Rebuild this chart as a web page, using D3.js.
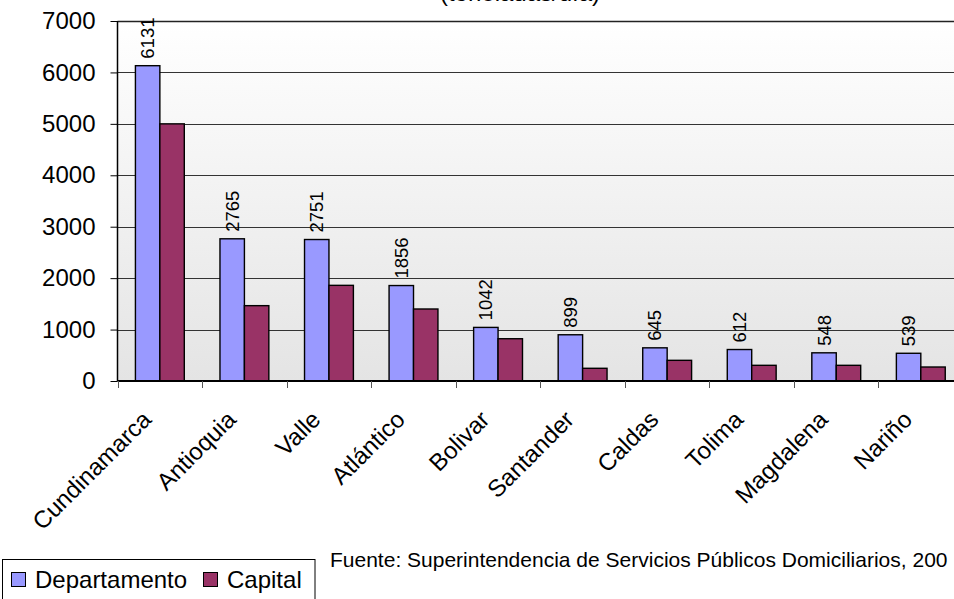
<!DOCTYPE html>
<html><head><meta charset="utf-8">
<script src="https://cdn.jsdelivr.net/npm/d3@7"></script>
<style>body{margin:0;background:#fff}svg{display:block;font-family:"Liberation Sans",Arial,sans-serif}</style>
</head><body><svg id="c" width="954" height="599"></svg>
<script>
const categories = ["Cundinamarca","Antioquia","Valle","Atlántico","Bolivar","Santander","Caldas","Tolima","Magdalena","Nariño"];
const departamento = [6131,2765,2751,1856,1042,899,645,612,548,539];
const capital = [5000,1465,1860,1400,822,247,402,305,305,272];
const seriesNames = ["Departamento","Capital"];
const seriesColors = ["#9999FF","#993366"];
const yTicks = [0,1000,2000,3000,4000,5000,6000,7000];
const titleText = "(toneladas/día)";
const sourceText = "Fuente: Superintendencia de Servicios Públicos Domiciliarios, 200";

const svg = d3.select("#c");
const L = 117.5, R = 963, T = 21, B = 381;
const x0 = d3.scaleBand().domain(categories).range([L, R]).padding(0);
const bw = x0.bandwidth();
const x1 = d3.scaleBand().domain(seriesNames).range([bw*0.212, bw*0.79]).padding(0);
const y = d3.scaleLinear().domain([0,7000]).range([B, T]);

const defs = svg.append("defs");
const g = defs.append("linearGradient").attr("id","bg").attr("x1",0).attr("y1",0).attr("x2",0).attr("y2",1);
g.append("stop").attr("offset","0%").attr("stop-color","#ffffff");
g.append("stop").attr("offset","100%").attr("stop-color","#e4e4e4");

svg.append("rect").attr("x",L).attr("y",T).attr("width",R-L).attr("height",B-T).attr("fill","url(#bg)");

// gridlines
svg.append("g").selectAll("line").data(yTicks.filter(d=>d>0)).join("line")
  .attr("x1",L).attr("x2",R).attr("y1",d=>Math.round(y(d))+0.5).attr("y2",d=>Math.round(y(d))+0.5)
  .attr("stroke",d=>d===7000?"#222":"#333").attr("stroke-width",d=>d===7000?1.6:1);

// bars
const data = categories.map((c,i)=>({c, vals:[departamento[i],capital[i]]}));
const grp = svg.append("g").selectAll("g").data(data).join("g").attr("transform",d=>`translate(${x0(d.c)},0)`);
grp.selectAll("rect").data(d=>d.vals.map((v,j)=>({v,s:seriesNames[j],j}))).join("rect")
  .attr("x",d=>x1(d.s)).attr("width",x1.bandwidth()).attr("y",d=>y(d.v)).attr("height",d=>B-y(d.v))
  .attr("fill",d=>seriesColors[d.j]).attr("stroke","#000").attr("stroke-width",1.4);

// value labels
grp.append("text")
  .attr("transform",d=>`translate(${x1("Departamento")+x1.bandwidth()/2+6.5},${y(d.vals[0])-7}) rotate(-90)`)
  .attr("font-size",18.5).attr("fill","#000").text(d=>d.vals[0]);

// y axis
const ya = svg.append("g").attr("transform",`translate(${L},0)`)
  .call(d3.axisLeft(y).tickValues(yTicks).tickSize(7).tickPadding(15).tickFormat(d3.format("d")));
ya.select(".domain").attr("stroke","#000").attr("stroke-width",1.5).attr("d",`M0,${T}V${B}`);
ya.selectAll(".tick line").attr("stroke","#000");
ya.selectAll("text").attr("font-size",24).attr("fill","#000").attr("font-family","Liberation Sans, Arial, sans-serif");

// x axis
const xa = svg.append("g").attr("transform",`translate(0,${B})`);
xa.append("line").attr("x1",L).attr("x2",R).attr("stroke","#000").attr("stroke-width",2);
xa.selectAll("line.t").data(categories).join("line").attr("class","t")
  .attr("x1",d=>Math.round(x0(d))+0.5).attr("x2",d=>Math.round(x0(d))+0.5).attr("y1",0).attr("y2",7).attr("stroke","#555");
xa.selectAll("text").data(categories).join("text")
  .attr("transform",d=>`translate(${x0(d)+bw/2-7},${40}) rotate(-45)`)
  .attr("text-anchor","end").attr("font-size",24).attr("fill","#000").text(d=>d);

// title
svg.append("text").attr("x",520).attr("y",1).attr("text-anchor","middle").attr("font-size",24).attr("fill","#000").text(titleText);

// source
svg.append("text").attr("x",330).attr("y",567).attr("font-size",21).attr("fill","#000").text(sourceText);

// legend
svg.append("rect").attr("x",2.5).attr("y",559.5).attr("width",312.5).attr("height",45).attr("fill","#fff").attr("stroke","#000");
const leg = [{x:11,tx:35},{x:203,tx:227}];
seriesNames.forEach((s,i)=>{
  svg.append("rect").attr("x",leg[i].x+0.5).attr("y",572.5).attr("width",14).attr("height",14).attr("fill",seriesColors[i]).attr("stroke","#000");
  svg.append("text").attr("x",leg[i].tx).attr("y",588).attr("font-size",24).attr("fill","#000").text(s);
});
</script></body></html>
